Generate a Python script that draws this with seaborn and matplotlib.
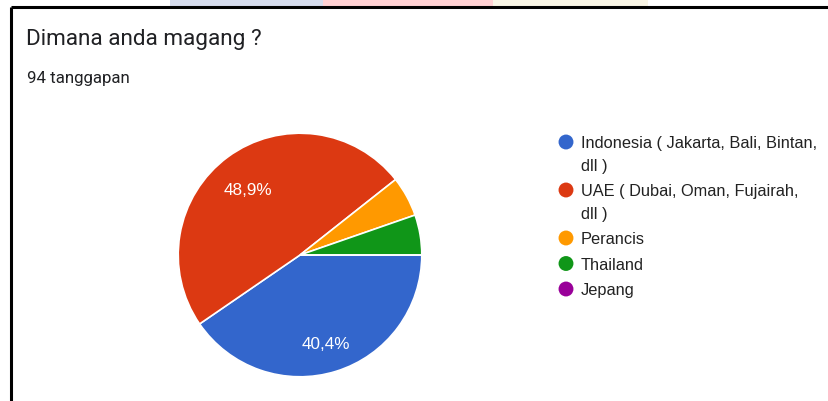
import matplotlib
matplotlib.use("Agg")
import matplotlib.pyplot as plt
import matplotlib.transforms as mtransforms
import seaborn as sns

# data (94 responses)
categories = ["Indonesia ( Jakarta, Bali, Bintan,\ndll )",
              "UAE ( Dubai, Oman, Fujairah,\ndll )",
              "Perancis", "Thailand", "Jepang"]
counts = [38, 46, 5, 5, 0]
colors = ["#3366cc", "#dc3912", "#ff9900", "#109618", "#990099"]
title = "Dimana anda magang ?"
subtitle = "94 tanggapan"

sns.set_theme(style="white")
plt.rcParams["font.family"] = ["Roboto", "DejaVu Sans"]

W, H = 829, 402
fig = plt.figure(figsize=(W / 100, H / 100), dpi=100)
fig.patch.set_facecolor("white")

# background overlay in pixel coordinates
bg = fig.add_axes([0, 0, 1, 1])
bg.set_xlim(0, W)
bg.set_ylim(H, 0)
bg.axis("off")

# faint watermark bands above the card
for x0, x1, c in [(170, 323, "#d5dbec"), (323, 493, "#ffd0d2"), (493, 648, "#f8f4e4")]:
    bg.fill_between([x0, x1], 0, 7, color=c, lw=0)
# card border (top and left edges only visible)
bg.plot([11, W], [8, 8], color="black", lw=2.2, solid_capstyle="butt")
bg.plot([11, 11], [8, H], color="black", lw=2.2, solid_capstyle="butt")

bg.text(26, 45, title, fontsize=16.2, color="#202124", va="baseline", ha="left")
bg.text(27, 83, subtitle, fontsize=12.2, color="#202124", va="baseline", ha="left")

# pie
cx, cy, r = 300, 256, 123
ax = fig.add_axes([(cx - r) / W, (H - cy - r) / H, 2 * r / W, 2 * r / H])
wedges, texts, autotexts = ax.pie(
    counts, colors=colors, startangle=0, counterclock=False,
    wedgeprops=dict(edgecolor="white", linewidth=1.2),
    autopct=lambda p: f"{p:.1f}%".replace(".", ",") if p > 10 else "",
    pctdistance=0.72,
    textprops=dict(color="white", fontsize=12.3, family=["Liberation Sans", "DejaVu Sans"]),
)
for t in autotexts:
    t.set_transform(mtransforms.offset_copy(t.get_transform(), fig=fig, y=-5, units="dots"))
ax.set_xlim(-1.01, 1.01)
ax.set_ylim(-1.01, 1.01)
ax.set_aspect("auto")
ax.axis("off")

# legend drawn by hand so the dot sits on the first line
y = 143
for lab, col in zip(categories, colors):
    bg.scatter([566], [y], s=115, color=col, edgecolor="none", zorder=3)
    for line in lab.split("\n"):
        bg.text(581, y + 5.5, line, fontsize=11.8, color="#222222",
                va="baseline", ha="left", family=["Liberation Sans", "DejaVu Sans"])
        y += 22.5
    y += 3

fig.savefig("out.png", dpi=100, facecolor="white")
